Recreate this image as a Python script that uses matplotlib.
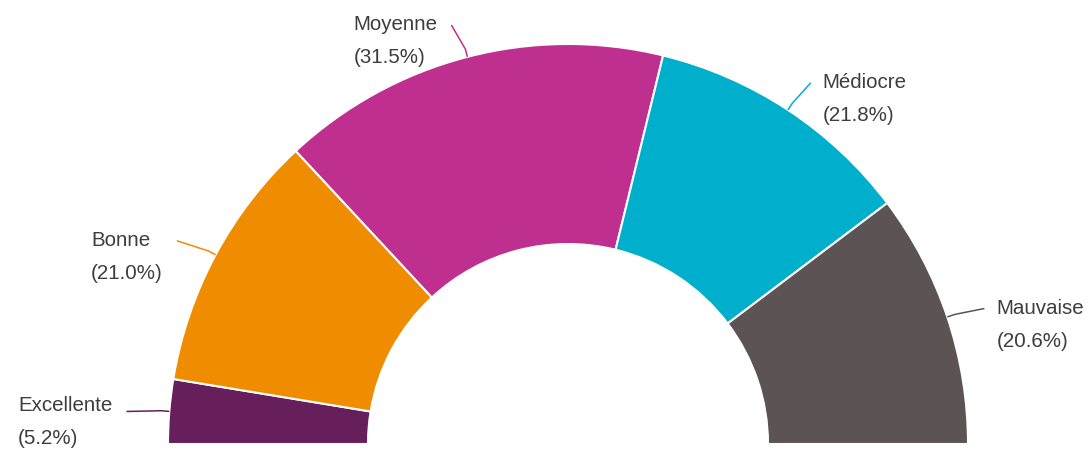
import numpy as np
import matplotlib
matplotlib.use('Agg')
import matplotlib.pyplot as plt

plt.rcParams['font.family'] = ['Liberation Sans', 'DejaVu Sans']

categories = ['Excellente', 'Bonne', 'Moyenne', 'Médiocre', 'Mauvaise']
values = [5.2, 21.0, 31.5, 21.8, 20.6]
pct_labels = ['(5.2%)', '(21.0%)', '(31.5%)', '(21.8%)', '(20.6%)']
colors = ['#661f5a', '#f08c00', '#bf2f8f', '#00afcb', '#5c5454']
text_color = '#3d3d3d'

W, H, DPI = 1089, 450, 100
fig = plt.figure(figsize=(W / DPI, H / DPI), dpi=DPI)
ax = fig.add_axes([0, 0, 1, 1])
ax.axis('off')

total = sum(values)
wedges, _ = ax.pie(values + [total], colors=colors + ['none'], startangle=180,
                   counterclock=False, radius=1.0,
                   wedgeprops=dict(width=0.5, edgecolor='white', linewidth=1.5))
wedges[-1].set_visible(False)

PX = 1 / 400.0
cx_px, cy_px = 568, 444
ax.set_xlim(-cx_px * PX, (W - cx_px) * PX)
ax.set_ylim((cy_px - H) * PX, cy_px * PX)
ax.set_aspect('auto')

fig.canvas.draw()
renderer = fig.canvas.get_renderer()

FS = 14.8
LINE_GAP = 33 * PX
for w, cat, pct, col in zip(wedges[:-1], categories, pct_labels, colors):
    mid = np.deg2rad((w.theta1 + w.theta2) / 2)
    c, s = np.cos(mid), np.sin(mid)
    ax_, ay_ = 1.09 * c, 1.09 * s
    t1 = ax.text(0, 0, cat, fontsize=FS, color=text_color, ha='left', va='baseline')
    t2 = ax.text(0, 0, pct, fontsize=FS, color=text_color, ha='left', va='baseline')
    wmax = max(t.get_window_extent(renderer).width for t in (t1, t2)) * PX
    base1 = ay_ - 8 * PX
    # keep the second line inside the drawing area
    base1 = max(base1, LINE_GAP - 0.3 * PX)
    if c >= 0:
        xl = ax_ + 15 * PX
        lx = xl - 12 * PX
    else:
        xl = ax_ - 21 * PX - wmax
        lx = xl + wmax + 14 * PX
    ly = ay_ - 3 * PX
    t1.set_position((xl, base1))
    t2.set_position((xl, base1 - LINE_GAP))
    kr = 1.0 + 8 * PX
    ax.plot([c, kr * c, lx], [s, kr * s, ly], color=col, lw=1.1,
            solid_capstyle='butt', solid_joinstyle='round')

fig.savefig('out.png', dpi=DPI)
